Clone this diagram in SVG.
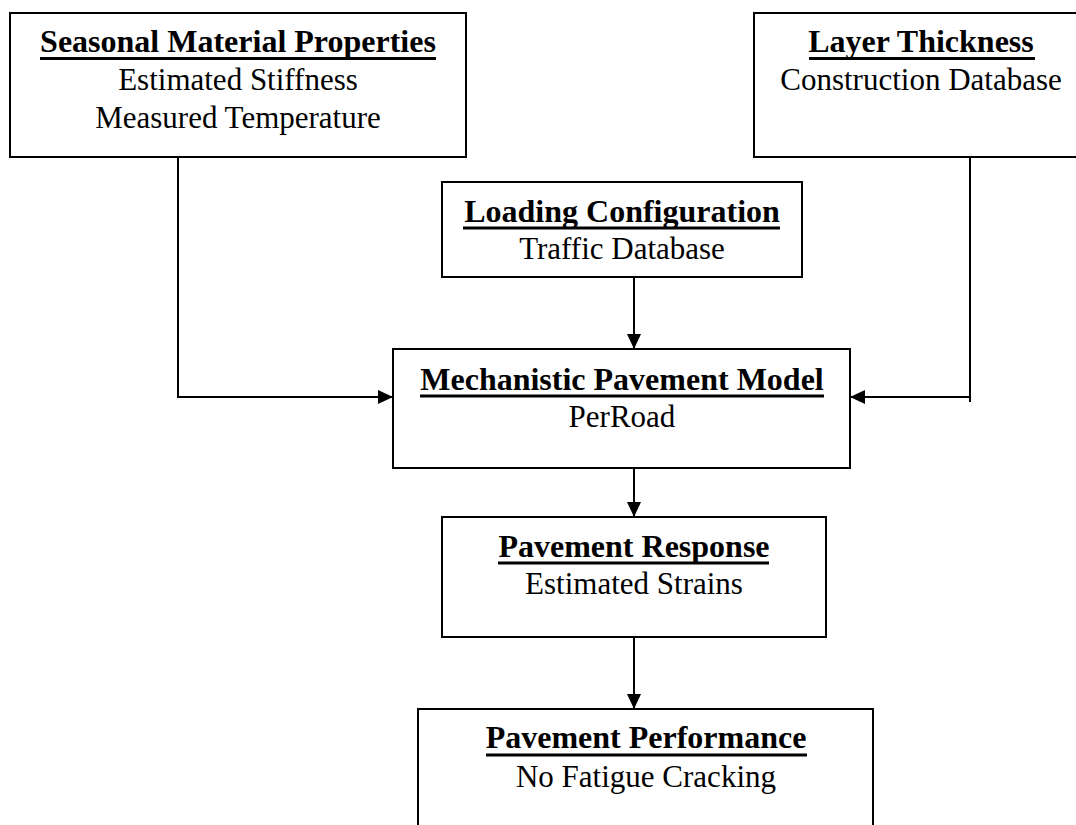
<svg xmlns="http://www.w3.org/2000/svg" width="1076" height="825" viewBox="0 0 1076 825">
  <style>
    .box { fill: #ffffff; stroke: #000000; stroke-width: 2; }
    .title { font-family: "Liberation Serif", "Times New Roman", serif; font-size: 32px; font-weight: bold; text-anchor: middle; fill: #000; }
    .sub { font-family: "Liberation Serif", "Times New Roman", serif; font-size: 31px; text-anchor: middle; fill: #000; }
    .ul { stroke: #000000; stroke-width: 2.8; }
    .conn { fill: none; stroke: #000000; stroke-width: 2; }
  </style>
  <defs>
    <marker id="arrow" markerUnits="userSpaceOnUse" markerWidth="15" markerHeight="14" refX="15" refY="7" orient="auto">
      <path d="M0,0 L15,7 L0,14 z" fill="#000000"/>
    </marker>
  </defs>
  <rect width="1076" height="825" fill="#ffffff"/>

  <g id="node-seasonal">
    <rect class="box" x="10" y="13" width="456" height="144"/>
    <text class="title" x="238" y="52">Seasonal Material Properties</text>
    <line class="ul" x1="40" y1="58.5" x2="436" y2="58.5"/>
    <text class="sub" x="238" y="90">Estimated Stiffness</text>
    <text class="sub" x="238" y="128">Measured Temperature</text>
  </g>

  <g id="node-layer">
    <rect class="box" x="754" y="13" width="340" height="144"/>
    <text class="title" x="921" y="52">Layer Thickness</text>
    <line class="ul" x1="809" y1="58.5" x2="1035" y2="58.5"/>
    <text class="sub" x="921" y="90">Construction Database</text>
  </g>

  <g id="node-loading">
    <rect class="box" x="442" y="182" width="360" height="95"/>
    <text class="title" x="622" y="222">Loading Configuration</text>
    <line class="ul" x1="463" y1="228" x2="780" y2="228"/>
    <text class="sub" x="622" y="259">Traffic Database</text>
  </g>

  <g id="node-model">
    <rect class="box" x="393" y="349" width="457" height="119"/>
    <text class="title" x="622" y="390">Mechanistic Pavement Model</text>
    <line class="ul" x1="420" y1="396" x2="824" y2="396"/>
    <text class="sub" x="622" y="427">PerRoad</text>
  </g>

  <g id="node-response">
    <rect class="box" x="442" y="517" width="384" height="120"/>
    <text class="title" x="634" y="557">Pavement Response</text>
    <line class="ul" x1="498" y1="563" x2="769" y2="563"/>
    <text class="sub" x="634" y="594">Estimated Strains</text>
  </g>

  <g id="node-performance">
    <rect class="box" x="418" y="709" width="455" height="130"/>
    <text class="title" x="646" y="748">Pavement Performance</text>
    <line class="ul" x1="486" y1="755" x2="807" y2="755"/>
    <text class="sub" x="646" y="787">No Fatigue Cracking</text>
  </g>

  <g id="connectors">
    <polyline class="conn" points="178,157 178,397 393,397" marker-end="url(#arrow)"/>
    <polyline class="conn" points="970,157 970,402"/>
    <line class="conn" x1="970" y1="397" x2="850" y2="397" marker-end="url(#arrow)"/>
    <line class="conn" x1="634" y1="277" x2="634" y2="349" marker-end="url(#arrow)"/>
    <line class="conn" x1="634" y1="468" x2="634" y2="517" marker-end="url(#arrow)"/>
    <line class="conn" x1="634" y1="637" x2="634" y2="709" marker-end="url(#arrow)"/>
  </g>
</svg>
